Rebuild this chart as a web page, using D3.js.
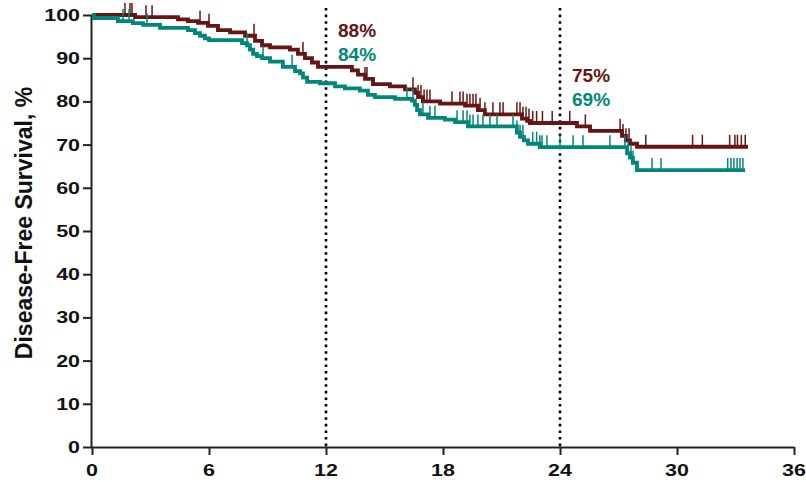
<!DOCTYPE html>
<html>
<head>
<meta charset="utf-8">
<script src="https://cdn.jsdelivr.net/npm/d3@7"></script>
<style>
  body { margin: 0; background: #fff; }
  svg { display: block; }
  text { font-family: "Liberation Sans", Arial, sans-serif; font-weight: bold; }
</style>
</head>
<body>
<svg id="chart" width="806" height="482"></svg>
<script>
// ---- Data (months, % disease-free survival) ----
const redTimes = [0, 2.21, 4.41, 4.92, 5.44, 5.95, 6.46, 7.08, 7.85, 8.36, 8.72, 9.13, 10.15, 10.56, 10.92, 11.28, 11.59, 13.33, 13.64, 14.0, 14.41, 15.28, 16.05, 16.56, 16.72, 16.97, 17.85, 19.13, 19.79, 20.15, 22.05, 22.31, 22.46, 24.87, 25.54, 27.18, 27.38, 27.59, 27.95];
const redSurv  = [100, 99.5, 99.0, 98.6, 98.2, 97.5, 96.5, 96.0, 95.2, 94.0, 93.0, 92.5, 92.0, 91.0, 90.0, 89.0, 88.0, 87.2, 86.2, 85.2, 84.0, 83.5, 82.8, 82.0, 81.0, 80.0, 79.5, 79.0, 78.0, 77.0, 76.0, 75.5, 75.0, 74.2, 73.2, 72.0, 71.0, 70.2, 69.5];
const redEnd = 33.64;
const redCensor = [1.69, 1.95, 2.05, 2.77, 3.08, 5.54, 6.0, 8.31, 10.82, 14.0, 14.1, 16.46, 16.72, 16.87, 17.03, 17.18, 17.33, 18.46, 18.87, 19.03, 19.23, 19.38, 19.54, 19.69, 19.9, 20.15, 20.56, 20.92, 21.08, 21.79, 21.95, 22.1, 22.26, 22.41, 22.6, 22.8, 23.1, 23.6, 24.5, 25.3, 27.08, 27.23, 27.38, 27.54, 28.4, 30.8, 31.3, 32.7, 32.97, 33.1, 33.3, 33.5];

const tealTimes = [0, 0.10, 1.33, 2.1, 2.62, 3.49, 4.92, 5.28, 5.54, 5.79, 6.0, 7.69, 7.95, 8.1, 8.26, 8.46, 8.72, 9.13, 9.79, 10.41, 10.67, 10.82, 11.03, 11.69, 12.46, 12.97, 13.74, 14.15, 14.51, 15.54, 16.41, 16.56, 16.67, 16.82, 17.23, 18.1, 18.62, 19.28, 21.79, 21.95, 22.15, 22.36, 22.97, 27.44, 27.59, 27.74, 27.95];
const tealSurv  = [100, 99.3, 98.6, 98.1, 97.7, 97.0, 96.5, 95.8, 95.2, 94.6, 94.2, 93.5, 93.0, 92.0, 91.0, 90.5, 90.0, 89.2, 88.0, 87.0, 86.5, 85.5, 84.5, 84.2, 83.5, 83.0, 82.5, 81.5, 81.0, 80.6, 80.2, 79.2, 78.0, 77.0, 76.2, 75.8, 75.2, 74.2, 72.8, 71.8, 71.0, 70.2, 69.4, 68.0, 67.0, 65.8, 64.1];
const tealEnd = 33.49;
const tealCensor = [1.59, 1.9, 2.82, 7.95, 8.77, 10.26, 16.15, 16.46, 16.97, 17.33, 17.59, 18.72, 19.03, 19.23, 19.38, 19.54, 19.79, 20.05, 20.41, 20.77, 21.59, 21.79, 21.95, 22.1, 22.6, 22.8, 22.97, 23.08, 23.33, 24.0, 24.67, 25.18, 26.56, 27.33, 27.49, 27.64, 27.74, 28.72, 29.18, 32.6, 32.77, 32.92, 33.08, 33.23, 33.38];

const xTicks = [0, 6, 12, 18, 24, 30, 36];
const yTicks = [0, 10, 20, 30, 40, 50, 60, 70, 80, 90, 100];
const landmarks = [12, 24];
const landmarkRed  = ["88%", "75%"];
const landmarkTeal = ["84%", "69%"];
const yLabel = "Disease-Free Survival, %";

// ---- Styles ----
const RED = "#661414";
const TEAL = "#00877a";

const svg = d3.select("#chart");
const x = d3.scaleLinear().domain([0, 36]).range([92, 794]);
const y = d3.scaleLinear().domain([0, 100]).range([447, 15]);

// dotted landmark lines
svg.selectAll("line.landmark").data(landmarks).join("line")
  .attr("x1", d => x(d)).attr("x2", d => x(d))
  .attr("y1", 8).attr("y2", y(0))
  .attr("stroke", "#000").attr("stroke-width", 2.6)
  .attr("stroke-dasharray", "2.6,4");

// axes
const yAxis = svg.append("g").attr("transform", `translate(${x(0)},0)`)
  .call(d3.axisLeft(y).tickValues(yTicks).tickSize(9).tickFormat(""));
const xAxis = svg.append("g").attr("transform", `translate(0,${y(0)})`)
  .call(d3.axisBottom(x).tickValues(xTicks).tickSize(8).tickFormat(""));
[xAxis, yAxis].forEach(g => {
  g.select(".domain").attr("stroke", "#222").attr("stroke-width", 2);
  g.selectAll(".tick line").attr("stroke", "#222").attr("stroke-width", 2);
});
xAxis.select(".domain").attr("d", `M${x(0)},0.5H${x(36)}`);
yAxis.select(".domain").attr("d", `M-0.5,${y(0)}V${y(100)}`);

// tick labels (stretched bold digits)
svg.selectAll("text.ytl").data(yTicks).join("text")
  .attr("transform", d => `translate(80,${y(d)}) scale(1.3,1)`)
  .attr("dy", "0.36em").attr("text-anchor", "end")
  .attr("font-size", 16.5).attr("fill", "#111").text(d => d);
svg.selectAll("text.xtl").data(xTicks).join("text")
  .attr("transform", d => `translate(${x(d)},476) scale(1.3,1)`)
  .attr("text-anchor", "middle")
  .attr("font-size", 16.5).attr("fill", "#111").text(d => d);

// y-axis title
svg.append("text")
  .attr("transform", "translate(32,223) rotate(-90)")
  .attr("text-anchor", "middle").attr("font-size", 23).attr("fill", "#111")
  .text(yLabel);

// KM curves
function drawArm(times, surv, end, censor, color) {
  const pts = times.map((t, i) => [t, surv[i]]);
  pts.push([end, surv[surv.length - 1]]);
  const line = d3.line().x(d => x(d[0])).y(d => y(d[1])).curve(d3.curveStepAfter);
  svg.append("path").datum(pts).attr("d", line)
    .attr("fill", "none").attr("stroke", color).attr("stroke-width", 3.8);
  const survAt = t => surv[d3.bisectRight(times, t) - 1];
  svg.append("g").selectAll("line").data(censor).join("line")
    .attr("x1", d => x(d)).attr("x2", d => x(d))
    .attr("y1", d => y(survAt(d))).attr("y2", d => y(survAt(d)) - 12)
    .attr("stroke", color).attr("stroke-width", 1.5);
}
drawArm(redTimes, redSurv, redEnd, redCensor, RED);
drawArm(tealTimes, tealSurv, tealEnd, tealCensor, TEAL);

// landmark percentage labels
const labelX = [338, 572];
const labelY = [37, 82];
svg.selectAll("text.lr").data(landmarkRed).join("text")
  .attr("x", (d, i) => labelX[i]).attr("y", (d, i) => labelY[i])
  .attr("font-size", 19).attr("fill", RED).text(d => d);
svg.selectAll("text.lt").data(landmarkTeal).join("text")
  .attr("x", (d, i) => labelX[i]).attr("y", (d, i) => labelY[i] + 24)
  .attr("font-size", 19).attr("fill", TEAL).text(d => d);
</script>
</body>
</html>
